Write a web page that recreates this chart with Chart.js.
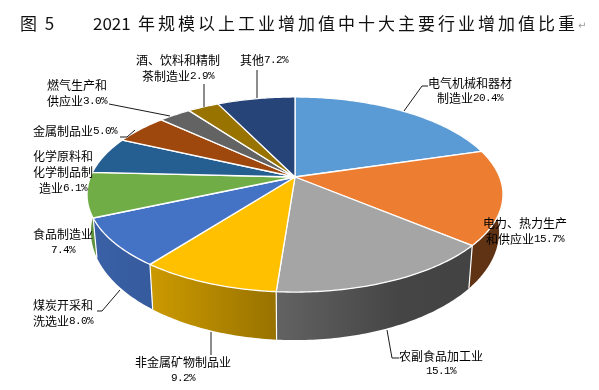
<!DOCTYPE html>
<html>
<head>
<meta charset="utf-8">
<script src="https://cdn.jsdelivr.net/npm/chart.js@4"></script>
<style>
    body { margin: 0; background: #fff; }
    canvas { display: block; }
</style>
</head>
<body>
<canvas id="chart" width="599" height="390"></canvas>
<script>
// the value is appended to the last line of each label
const categories = [
    ['电气机械和器材', '制造业'],
    ['电力、热力生产', '和供应业'],
    ['农副食品加工业', ''],
    ['非金属矿物制品业', ''],
    ['煤炭开采和', '洗选业'],
    ['食品制造业', ''],
    ['化学原料和', '化学制品制', '造业'],
    ['金属制品业'],
    ['燃气生产和', '供应业'],
    ['酒、饮料和精制', '茶制造业'],
    ['其他']
];
const shares = [20.4, 15.7, 15.1, 9.2, 8.0, 7.4, 6.1, 5.0, 3.0, 2.9, 7.2];
const colors = ['#5b9bd5', '#ed7d31', '#a5a5a5', '#ffc000', '#4472c4', '#70ad47',
    '#255e91', '#9e480e', '#636363', '#997300', '#264478'];

const titleFigure = '图 5';
const titleYear = '2021';
const titleText = '年规模以上工业增加值中十大主要行业增加值比重';

// label placement: centre x, first line centre y, line height
const labelPos = [
    [470, 83, 15], [525, 223, 16], [441, 356, 15], [183, 362, 16], [63, 305, 16],
    [63, 234, 16], [63, 156, 16], [75, 131, 16], [77, 85, 16], [178, 60, 16], [264, 60, 16]
];
const leaders = [
    [[404, 111], [422, 86], [428, 86]],
    [[387, 330], [392, 358], [399, 358]],
    [[211, 332], [211, 355]],
    [[120, 290], [102, 311], [97, 311]],
    [[120, 137], [127, 137], [135, 130]],
    [[109, 104], [170, 116]],
    [[204, 84], [204, 107]],
    [[257, 70], [257, 98]]
];

// perspective of the pie disc
const cx = 295, cy = 177, ax = 204.6, ay = 94.4, persp = 0.1795;
const shadeStops = [[0, 0.85], [0.15, 0.8], [0.45, 0.6], [0.75, 0.42], [1, 0.4]];

function project(angle) {
    const u = Math.cos(angle), v = Math.sin(angle), w = 1 - persp * v;
    return [cx + ax * u / w, cy + ay * v / w];
}

function lower(p) {
    return [cx + (p[0] - cx) * 0.981, p[1] + 40 + (p[1] - 219) * 0.11];
}

function rim(start, end) {
    const n = Math.max(2, Math.ceil((end - start) / 0.015)), pts = [];
    for (let i = 0; i <= n; i++) pts.push(project(start + (end - start) * i / n));
    return pts;
}

function trace(ctx, pts) {
    pts.forEach((p, i) => i ? ctx.lineTo(p[0], p[1]) : ctx.moveTo(p[0], p[1]));
}

function shade(hex, f) {
    const n = parseInt(hex.slice(1), 16);
    return `rgb(${(n >> 16) * f},${((n >> 8) & 255) * f},${(n & 255) * f})`;
}

function drawRuns(ctx, text, x, y) {
    // Latin runs are half the width of the CJK ones
    const runs = text.match(/[\x00-\x7f]+|[^\x00-\x7f]+/g) || [];
    const size = r => /^[\x00-\x7f]/.test(r) ? r.length * 6 : r.length * 12;
    let pos = x - runs.reduce((s, r) => s + size(r), 0) / 2;
    ctx.textAlign = 'left';
    ctx.textBaseline = 'middle';
    runs.forEach(r => {
        if (/^[\x00-\x7f]/.test(r)) {
            ctx.font = '11px "Liberation Mono"';
            ctx.letterSpacing = '-0.6px';
        } else {
            ctx.font = '12px "Noto Sans CJK SC"';
            ctx.letterSpacing = '0px';
        }
        ctx.fillText(r, pos, y);
        pos += size(r);
    });
    ctx.letterSpacing = '0px';
}

const pie3d = {
    id: 'pie3d',
    beforeDatasetDraw(chart) {
        const ctx = chart.ctx, arcs = chart.getDatasetMeta(0).data;
        ctx.save();
        arcs.forEach(arc => {
            const top = rim(arc.startAngle, arc.endAngle);
            const grad = ctx.createLinearGradient(87, 0, 503, 0);
            shadeStops.forEach(s => grad.addColorStop(s[0], shade(arc.options.backgroundColor, s[1])));
            ctx.beginPath();
            trace(ctx, top.concat(top.map(lower).reverse()));
            ctx.closePath();
            ctx.fillStyle = grad;
            ctx.fill();
        });
        arcs.forEach(arc => {
            if (Math.sin(arc.startAngle) <= persp) return;
            const p = project(arc.startAngle);
            ctx.beginPath();
            trace(ctx, [p, lower(p)]);
            ctx.strokeStyle = arc.options.borderColor;
            ctx.lineWidth = 1.2;
            ctx.stroke();
        });
        arcs.forEach(arc => {
            ctx.beginPath();
            trace(ctx, [[cx, cy]].concat(rim(arc.startAngle, arc.endAngle)));
            ctx.closePath();
            ctx.fillStyle = arc.options.backgroundColor;
            ctx.strokeStyle = arc.options.borderColor;
            ctx.lineWidth = arc.options.borderWidth;
            ctx.lineJoin = 'round';
            ctx.fill();
            ctx.stroke();
        });
        ctx.restore();
        return false;
    },
    afterDraw(chart) {
        const ctx = chart.ctx;
        ctx.save();
        ctx.strokeStyle = '#1a1a1a';
        ctx.lineWidth = 1;
        leaders.forEach(l => {
            ctx.beginPath();
            trace(ctx, l);
            ctx.stroke();
        });
        ctx.fillStyle = '#000';
        categories.forEach((lines, i) => {
            const pos = labelPos[i];
            lines.forEach((line, j) => {
                const text = j === lines.length - 1 ? line + shares[i].toFixed(1) + '%' : line;
                drawRuns(ctx, text, pos[0], pos[1] + j * pos[2]);
            });
        });

        ctx.textAlign = 'left';
        ctx.textBaseline = 'middle';
        ctx.fillStyle = '#111';
        ctx.font = '17px "Noto Sans CJK SC"';
        ctx.letterSpacing = '2px';
        ctx.fillText(titleFigure, 20, 24);
        ctx.letterSpacing = '0px';
        ctx.fillText(titleYear, 93, 24);
        ctx.letterSpacing = '3px';
        ctx.fillText(titleText, 138, 24);
        ctx.letterSpacing = '0px';
        ctx.fillStyle = '#999';
        ctx.font = '10px "DejaVu Sans"';
        ctx.fillText('↵', 578, 26);
        ctx.restore();
    }
};

new Chart(document.getElementById('chart'), {
    type: 'pie',
    data: {
        labels: categories.map(c => c.join('')),
        datasets: [{
            data: shares,
            backgroundColor: colors,
            borderColor: '#fff',
            borderWidth: 1.3
        }]
    },
    options: {
        responsive: false,
        animation: false,
        events: [],
        plugins: {
            legend: { display: false },
            tooltip: { enabled: false }
        }
    },
    plugins: [pie3d]
});
</script>
</body>
</html>
